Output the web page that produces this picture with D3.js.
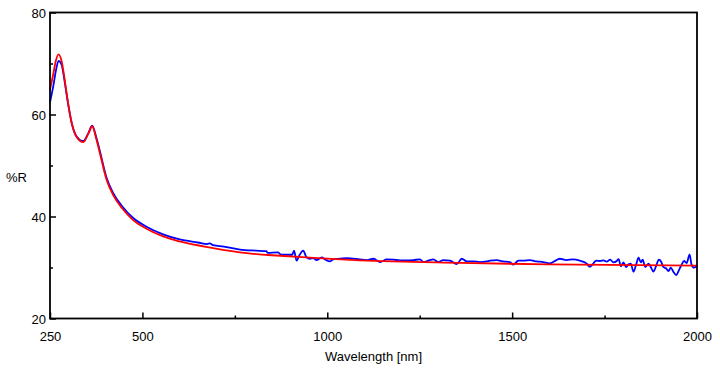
<!DOCTYPE html>
<html lang="en">
<head>
  <meta charset="UTF-8">
  <title>%R vs Wavelength</title>
  <script src="https://d3js.org/d3.v7.min.js"></script>
  <style>
    body { margin: 0; background: #fff; }
    svg text { font-family: "Liberation Sans", Arial, sans-serif; font-size: 13px; fill: #000; }
    .axis path { display: none; }
    .axis line { stroke: #000; stroke-width: 1.5; }
  </style>
</head>
<body>
  <svg width="720" height="368"></svg>
  <script>
    // tick labels
    const xMajorTicks = [250, 500, 1000, 1500, 2000];
    const xMinorTicks = [750, 1250, 1750];
    const yMajorTicks = [20, 40, 60, 80];
    const yMinorTicks = [30, 50, 70];

    // red series [wavelength nm, %R]
    const redSeries = [
      [250, 64.8], [259, 68.0], [266, 70.6], [273, 71.8], [281, 70.6], [290, 66.7],
      [296, 63.6], [309, 58.3], [322, 55.6], [340, 54.6], [354, 56.3], [364, 57.7],
      [376, 55.0], [385, 52.4], [403, 47.2], [421, 44.2], [444, 41.7], [475, 39.3],
      [511, 37.6], [556, 36.1], [601, 35.1], [691, 33.8], [782, 32.8], [872, 32.3],
      [962, 31.9], [1088, 31.4], [1358, 30.9], [1600, 30.6], [2000, 30.35]
    ];

    // blue series [wavelength nm, %R]
    const blueSeries = [
      [250, 62.4], [259, 65.6], [266, 68.6], [273, 70.5], [281, 69.8], [290, 66.3],
      [296, 63.4], [309, 58.2], [322, 55.7], [340, 54.8], [354, 56.4], [364, 57.8],
      [376, 55.3], [385, 52.8], [403, 47.6], [421, 44.6], [444, 42.1], [475, 39.7],
      [511, 38.0], [556, 36.5], [601, 35.5], [650, 34.9], [675, 34.6], [682, 34.75],
      [691, 34.4], [720, 34.1], [764, 33.5], [807, 33.3], [835, 33.2], [839, 32.85],
      [866, 32.95], [876, 32.5], [890, 32.5], [905, 32.5], [910, 33.29], [917, 31.33],
      [924, 32.31], [935, 33.29], [944, 31.98], [953, 31.72], [962, 31.85], [971, 31.46],
      [985, 31.98], [994, 31.59], [1007, 31.2], [1016, 31.59], [1034, 31.72], [1052, 31.85],
      [1070, 31.72], [1088, 31.59], [1107, 31.46], [1125, 31.72], [1143, 31.07], [1161, 31.59],
      [1179, 31.53], [1197, 31.4], [1215, 31.4], [1233, 31.46], [1251, 31.59], [1260, 31.07],
      [1273, 31.33], [1287, 31.59], [1300, 31.07], [1314, 31.46], [1332, 31.33], [1350, 30.68],
      [1364, 31.72], [1377, 31.2], [1395, 31.2], [1413, 31.07], [1431, 31.2], [1440, 31.33],
      [1458, 31.46], [1476, 31.2], [1494, 31.07], [1503, 30.55], [1517, 31.33], [1530, 31.33],
      [1548, 31.46], [1566, 31.2], [1584, 31.07], [1602, 30.81], [1620, 31.46], [1629, 31.72],
      [1647, 31.46], [1665, 31.59], [1683, 31.33], [1701, 30.81], [1710, 30.16], [1728, 31.33],
      [1738, 31.27], [1747, 31.4], [1756, 31.14], [1765, 31.53], [1774, 31.01], [1783, 31.27],
      [1788, 31.66], [1794, 30.23], [1801, 31.01], [1808, 30.1], [1815, 30.62], [1821, 30.75],
      [1828, 29.18], [1835, 30.49], [1842, 31.92], [1848, 31.01], [1853, 31.53], [1860, 30.1],
      [1869, 30.75], [1875, 30.1], [1882, 29.18], [1889, 30.23], [1897, 31.53], [1903, 31.14],
      [1909, 30.1], [1916, 29.84], [1923, 29.31], [1929, 29.97], [1936, 29.18], [1944, 28.53],
      [1951, 29.45], [1958, 30.49], [1965, 31.27], [1972, 30.88], [1980, 32.57], [1985, 30.62],
      [1992, 29.97], [2000, 30.36]
    ];

    const plot = {left: 50, right: 697, top: 12.5, bottom: 318.5};
    const svg = d3.select("svg");

    const x = d3.scaleLinear().domain([250, 2000]).range([plot.left, plot.right]);
    const y = d3.scaleLinear().domain([20, 80]).range([plot.bottom, plot.top]);

    // minor ticks (inward, short)
    svg.append("g")
      .attr("class", "axis")
      .attr("transform", `translate(0,${plot.bottom})`)
      .call(d3.axisBottom(x).tickValues(xMinorTicks).tickSizeInner(-3).tickSizeOuter(0).tickFormat(""));
    svg.append("g")
      .attr("class", "axis")
      .attr("transform", `translate(${plot.left},0)`)
      .call(d3.axisLeft(y).tickValues(yMinorTicks).tickSizeInner(-3).tickSizeOuter(0).tickFormat(""));

    // major ticks with labels
    svg.append("g")
      .attr("class", "axis")
      .attr("transform", `translate(0,${plot.bottom})`)
      .call(d3.axisBottom(x).tickValues(xMajorTicks).tickFormat(d3.format("d"))
        .tickSizeInner(-6).tickSizeOuter(0).tickPadding(13));
    const yAxis = svg.append("g")
      .attr("class", "axis")
      .attr("transform", `translate(${plot.left},0)`)
      .call(d3.axisLeft(y).tickValues(yMajorTicks).tickFormat(d3.format("d"))
        .tickSizeInner(-6).tickSizeOuter(0).tickPadding(4));
    yAxis.selectAll("text").attr("dy", "0.4em");
    svg.selectAll(".axis").attr("font-family", null).attr("font-size", null);

    const line = d3.line()
      .x(d => x(d[0]))
      .y(d => y(d[1]))
      .curve(d3.curveMonotoneX);

    svg.append("path")
      .datum(blueSeries)
      .attr("fill", "none")
      .attr("stroke", "#0000ff")
      .attr("stroke-width", 1.8)
      .attr("d", line);

    svg.append("path")
      .datum(redSeries)
      .attr("fill", "none")
      .attr("stroke", "#ff0000")
      .attr("stroke-width", 1.8)
      .attr("d", line);

    // frame
    svg.append("rect")
      .attr("x", plot.left)
      .attr("y", plot.top)
      .attr("width", plot.right - plot.left)
      .attr("height", plot.bottom - plot.top)
      .attr("fill", "none")
      .attr("stroke", "#000")
      .attr("stroke-width", 1.8);

    svg.append("text")
      .attr("x", 6)
      .attr("y", 182)
      .text("%R");

    svg.append("text")
      .attr("x", (plot.left + plot.right) / 2)
      .attr("y", 361)
      .attr("text-anchor", "middle")
      .text("Wavelength [nm]");
  </script>
</body>
</html>
